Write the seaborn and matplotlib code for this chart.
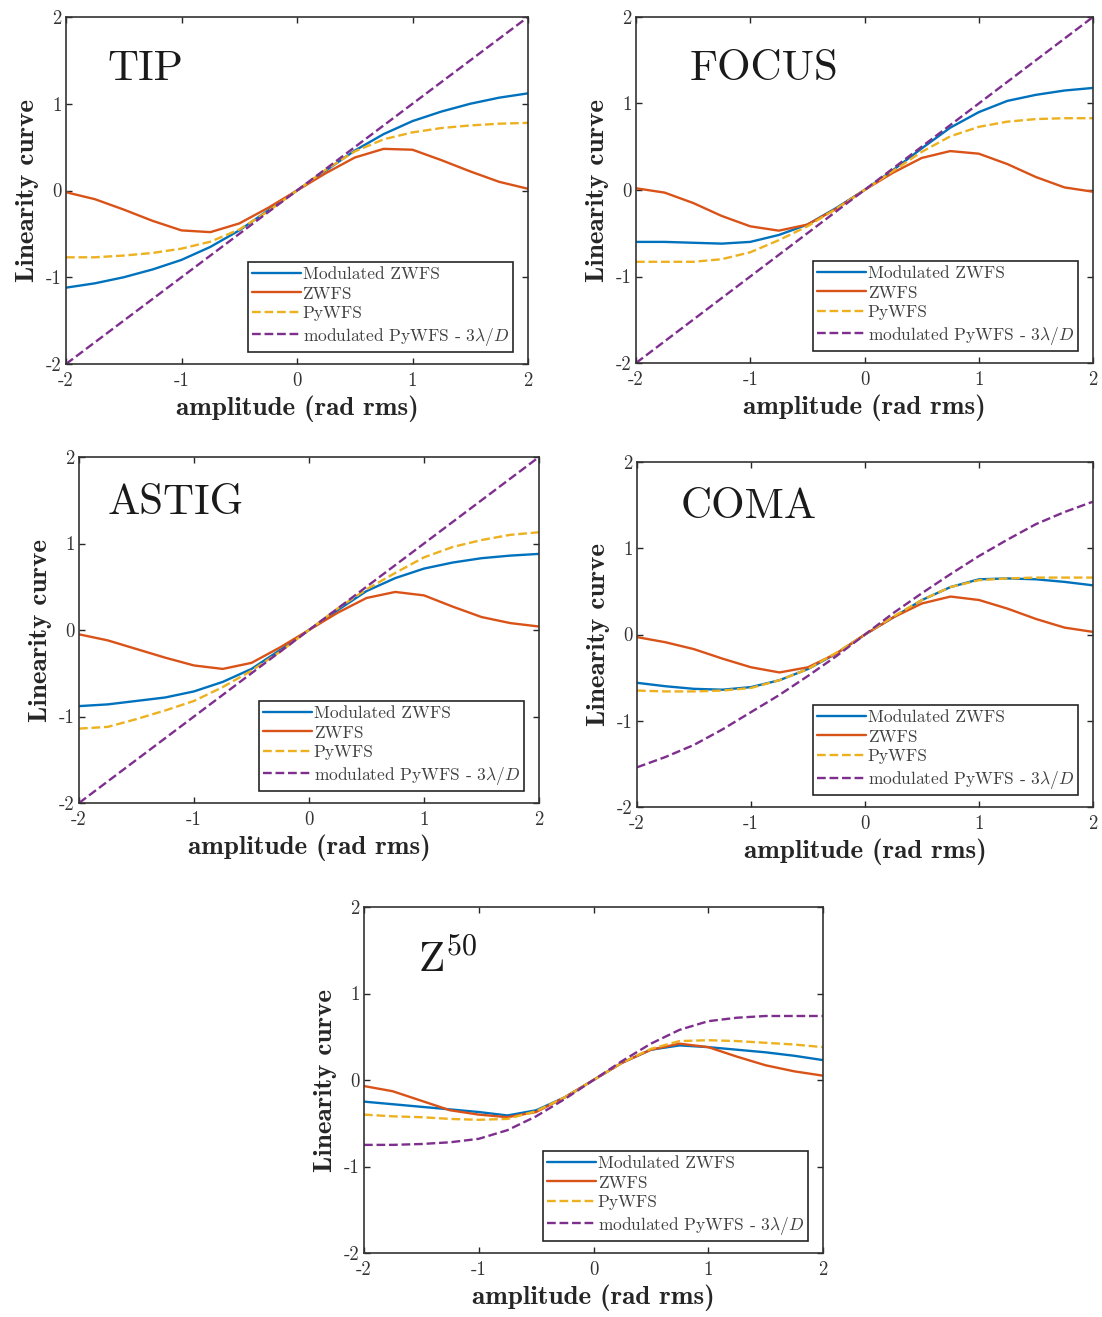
import numpy as np
import pandas as pd
import matplotlib
matplotlib.use("Agg")
import matplotlib.pyplot as plt
import seaborn as sns

# ---------------- data ----------------
amp = [-2.0, -1.75, -1.5, -1.25, -1.0, -0.75, -0.5, -0.25, 0.0,
       0.25, 0.5, 0.75, 1.0, 1.25, 1.5, 1.75, 2.0]

series_names = ["Modulated ZWFS", "ZWFS", "PyWFS", r"modulated PyWFS - 3$\lambda/D$"]
panel_titles = ["TIP", "FOCUS", "ASTIG", "COMA", r"$\mathrm{Z}^{50}$"]
tick_vals = [-2, -1, 0, 1, 2]
tick_labels = ["-2", "-1", "0", "1", "2"]

# TIP
tip_mzwfs = [-1.12, -1.07, -1.00, -0.91, -0.80, -0.65, -0.46, -0.23, 0.0,
             0.23, 0.46, 0.65, 0.80, 0.91, 1.00, 1.07, 1.12]
tip_zwfs = [-0.02, -0.10, -0.22, -0.35, -0.46, -0.48, -0.38, -0.20, 0.0,
            0.20, 0.38, 0.48, 0.47, 0.35, 0.22, 0.10, 0.02]
tip_pywfs = [-0.77, -0.77, -0.75, -0.72, -0.67, -0.59, -0.45, -0.24, 0.0,
             0.24, 0.45, 0.59, 0.67, 0.72, 0.75, 0.77, 0.78]
tip_mpywfs = [-2.0, -1.75, -1.5, -1.25, -1.0, -0.75, -0.5, -0.25, 0.0,
              0.25, 0.5, 0.75, 1.0, 1.25, 1.5, 1.75, 2.0]

# FOCUS
foc_mzwfs = [-0.60, -0.60, -0.61, -0.62, -0.60, -0.52, -0.40, -0.21, 0.0,
             0.23, 0.48, 0.72, 0.90, 1.03, 1.10, 1.15, 1.18]
foc_zwfs = [0.02, -0.03, -0.15, -0.30, -0.42, -0.47, -0.40, -0.22, 0.0,
            0.20, 0.37, 0.45, 0.42, 0.30, 0.15, 0.03, -0.02]
foc_pywfs = [-0.83, -0.83, -0.83, -0.80, -0.72, -0.58, -0.42, -0.22, 0.0,
             0.22, 0.44, 0.62, 0.73, 0.79, 0.82, 0.83, 0.83]
foc_mpywfs = [-2.0, -1.75, -1.5, -1.25, -1.0, -0.75, -0.5, -0.25, 0.0,
              0.25, 0.5, 0.75, 1.0, 1.25, 1.5, 1.75, 2.0]

# ASTIG
ast_mzwfs = [-0.88, -0.86, -0.82, -0.78, -0.71, -0.60, -0.45, -0.23, 0.0,
             0.23, 0.45, 0.60, 0.71, 0.78, 0.83, 0.86, 0.88]
ast_zwfs = [-0.05, -0.12, -0.22, -0.32, -0.41, -0.45, -0.38, -0.20, 0.0,
            0.20, 0.37, 0.44, 0.40, 0.27, 0.15, 0.08, 0.04]
ast_pywfs = [-1.14, -1.12, -1.03, -0.93, -0.82, -0.66, -0.47, -0.25, 0.0,
             0.25, 0.47, 0.66, 0.84, 0.96, 1.04, 1.10, 1.13]
ast_mpywfs = [-2.0, -1.75, -1.5, -1.25, -1.0, -0.75, -0.5, -0.25, 0.0,
              0.25, 0.5, 0.75, 1.0, 1.25, 1.5, 1.75, 2.0]

# COMA
com_mzwfs = [-0.56, -0.60, -0.63, -0.64, -0.61, -0.53, -0.40, -0.22, 0.0,
             0.20, 0.40, 0.55, 0.64, 0.65, 0.64, 0.61, 0.57]
com_zwfs = [-0.03, -0.09, -0.17, -0.28, -0.38, -0.44, -0.38, -0.22, 0.0,
            0.20, 0.36, 0.44, 0.40, 0.30, 0.18, 0.08, 0.03]
com_pywfs = [-0.65, -0.66, -0.66, -0.65, -0.62, -0.53, -0.40, -0.21, 0.0,
             0.21, 0.40, 0.55, 0.63, 0.65, 0.66, 0.66, 0.66]
com_mpywfs = [-1.54, -1.42, -1.28, -1.10, -0.90, -0.70, -0.48, -0.25, 0.0,
              0.25, 0.48, 0.70, 0.91, 1.10, 1.28, 1.42, 1.54]

# Z50
z50_mzwfs = [-0.25, -0.28, -0.31, -0.34, -0.37, -0.41, -0.35, -0.20, 0.0,
             0.20, 0.35, 0.40, 0.38, 0.35, 0.32, 0.28, 0.23]
z50_zwfs = [-0.07, -0.13, -0.24, -0.35, -0.40, -0.43, -0.37, -0.20, 0.0,
            0.20, 0.35, 0.42, 0.38, 0.27, 0.17, 0.10, 0.05]
z50_pywfs = [-0.40, -0.42, -0.43, -0.45, -0.46, -0.45, -0.36, -0.20, 0.0,
             0.20, 0.36, 0.45, 0.46, 0.45, 0.43, 0.41, 0.38]
z50_mpywfs = [-0.75, -0.75, -0.74, -0.72, -0.68, -0.58, -0.42, -0.22, 0.0,
              0.22, 0.42, 0.58, 0.68, 0.72, 0.74, 0.74, 0.74]

panel_data = [
    [tip_mzwfs, tip_zwfs, tip_pywfs, tip_mpywfs],
    [foc_mzwfs, foc_zwfs, foc_pywfs, foc_mpywfs],
    [ast_mzwfs, ast_zwfs, ast_pywfs, ast_mpywfs],
    [com_mzwfs, com_zwfs, com_pywfs, com_mpywfs],
    [z50_mzwfs, z50_zwfs, z50_pywfs, z50_mpywfs],
]

# ---------------- styling ----------------
sns.set_theme(style="ticks")
plt.rcParams["font.family"] = ["cmr10", "DejaVu Serif"]
plt.rcParams["mathtext.fontset"] = "cm"
plt.rcParams["axes.unicode_minus"] = False
plt.rcParams["axes.formatter.use_mathtext"] = True

colors = ["#0072BD", "#D95319", "#EDB120", "#7E2F8E"]
styles = ["-", "-", "--", "--"]

W, H = 1102, 1317
fig = plt.figure(figsize=(W / 100, H / 100), dpi=100)

# axes boxes in pixels: (left, top, right, bottom)
boxes = [(66, 17, 528, 364), (636, 17, 1093, 363), (79, 457, 539, 803),
         (637, 462, 1093, 807), (364, 907, 823, 1253)]
title_pos = [(0.09, 0.85), (0.118, 0.85), (0.063, 0.865), (0.096, 0.87), (0.118, 0.85)]

for i, (box, data) in enumerate(zip(boxes, panel_data)):
    l, t, r, b = box
    ax = fig.add_axes([l / W, 1 - b / H, (r - l) / W, (b - t) / H])
    for name, vals, c, ls in zip(series_names, data, colors, styles):
        df = pd.DataFrame({"x": amp, "y": vals})
        line_kw = dict(dashes=(4.5, 2.8)) if ls == "--" else {}
        sns.lineplot(data=df, x="x", y="y", ax=ax, color=c, linewidth=1.7,
                     linestyle=ls, label=name, **line_kw)
    ax.set_xlim(-2, 2)
    ax.set_ylim(-2, 2)
    ax.set_xticks(tick_vals)
    ax.set_xticklabels(tick_labels)
    ax.set_yticks(tick_vals)
    ax.set_yticklabels(tick_labels)
    ax.tick_params(direction="in", top=True, right=True, length=4, width=1,
                   labelsize=13.5, color="0.15", labelcolor="0.2")
    ax.tick_params(axis="x", pad=6)
    ax.tick_params(axis="y", pad=3)
    for s in ax.spines.values():
        s.set_linewidth(1.2)
        s.set_color("0.2")
    ax.set_xlabel("amplitude (rad rms)", fontsize=19.5, fontfamily="cmb10",
                  color="0.15", labelpad=4)
    ax.set_ylabel("Linearity curve", fontsize=19.5, fontfamily="cmb10",
                  color="0.15", labelpad=5)
    ax.text(title_pos[i][0], title_pos[i][1], panel_titles[i], transform=ax.transAxes,
            fontsize=31, ha="left", va="center", color="0.1")
    leg = ax.legend(loc="lower right", bbox_to_anchor=(0.968, 0.035), fontsize=12.5,
                    frameon=True, fancybox=False, edgecolor="0.15", framealpha=1,
                    handlelength=2.8, handletextpad=0.1, borderpad=0.25,
                    labelspacing=0.25, borderaxespad=0)
    leg.get_frame().set_linewidth(1.2)
    for txt in leg.get_texts():
        txt.set_color("0.25")

fig.savefig("out.png", dpi=100, facecolor="white")
